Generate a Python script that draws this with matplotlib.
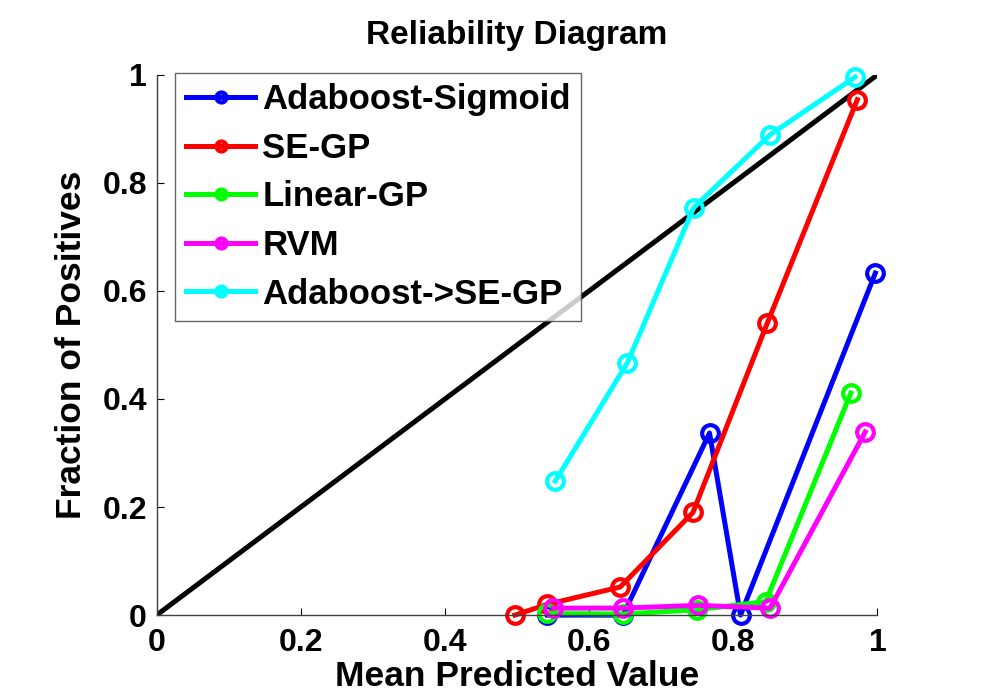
import matplotlib
matplotlib.use("Agg")
import matplotlib.pyplot as plt

# Werte (Mean Predicted Value -> Fraction of Positives)
ada_sig_x = [0.542, 0.647, 0.767, 0.810, 0.997]
ada_sig_y = [0.000, 0.000, 0.337, 0.000, 0.633]

se_gp_x = [0.497, 0.542, 0.643, 0.744, 0.847, 0.972]
se_gp_y = [0.000, 0.020, 0.052, 0.190, 0.540, 0.954]

lin_gp_x = [0.542, 0.647, 0.750, 0.845, 0.963]
lin_gp_y = [0.003, 0.002, 0.010, 0.025, 0.411]

rvm_x = [0.550, 0.647, 0.751, 0.851, 0.983]
rvm_y = [0.013, 0.013, 0.018, 0.013, 0.339]

ada_se_x = [0.553, 0.653, 0.745, 0.851, 0.969]
ada_se_y = [0.248, 0.467, 0.754, 0.889, 0.996]

labels = ["Adaboost-Sigmoid", "SE-GP", "Linear-GP", "RVM", "Adaboost->SE-GP"]
colors = ["#0000ff", "#ff0000", "#00ff00", "#ff00ff", "#00ffff"]
ticks = [0, 0.2, 0.4, 0.6, 0.8, 1]
tick_labels = ["0", "0.2", "0.4", "0.6", "0.8", "1"]

plt.rcParams["font.family"] = ["Liberation Sans", "DejaVu Sans"]
plt.rcParams["font.weight"] = "bold"

fig = plt.figure(figsize=(10.04, 6.99), dpi=100)
ax = fig.add_axes([0.156, 0.120, 0.718, 0.773])

ax.plot([0, 1], [0, 1], color="black", lw=3.6, zorder=1)
series = [(ada_sig_x, ada_sig_y), (se_gp_x, se_gp_y), (lin_gp_x, lin_gp_y),
          (rvm_x, rvm_y), (ada_se_x, ada_se_y)]
for (xs, ys), lab, col in zip(series, labels, colors):
    ax.plot(xs, ys, color=col, lw=3.6, marker="o", ms=12, mew=3,
            mfc="none", mec=col, label=lab, zorder=2, clip_on=False)

ax.set_xlim(0, 1)
ax.set_ylim(0, 1)
ax.set_xticks(ticks)
ax.set_xticklabels(tick_labels)
ax.set_yticks(ticks)
ax.set_yticklabels(tick_labels)
ax.tick_params(direction="in", length=5, width=0.8, labelsize=23)
ax.tick_params(axis="x", pad=9)
ax.tick_params(axis="y", pad=7)
for s in ("top", "right"):
    ax.spines[s].set_visible(False)
for s in ("left", "bottom"):
    ax.spines[s].set_color("#404040")
    ax.spines[s].set_linewidth(1.0)

ax.set_title("Reliability Diagram", fontsize=24, fontweight="bold", pad=22)
ax.set_xlabel("Mean Predicted Value", fontsize=25.5, fontweight="bold", labelpad=2)
ax.set_ylabel("Fraction of Positives", fontsize=25.5, fontweight="bold", labelpad=10)

leg = ax.legend(loc="upper left", bbox_to_anchor=(0.026, 1.004), fontsize=25,
                frameon=True, fancybox=False, edgecolor="#404040",
                handlelength=2.0, handletextpad=0.2, borderpad=0.3,
                labelspacing=0.45, markerscale=0.6, borderaxespad=0)
leg.get_frame().set_linewidth(1.0)

fig.savefig("out.png", dpi=100)
